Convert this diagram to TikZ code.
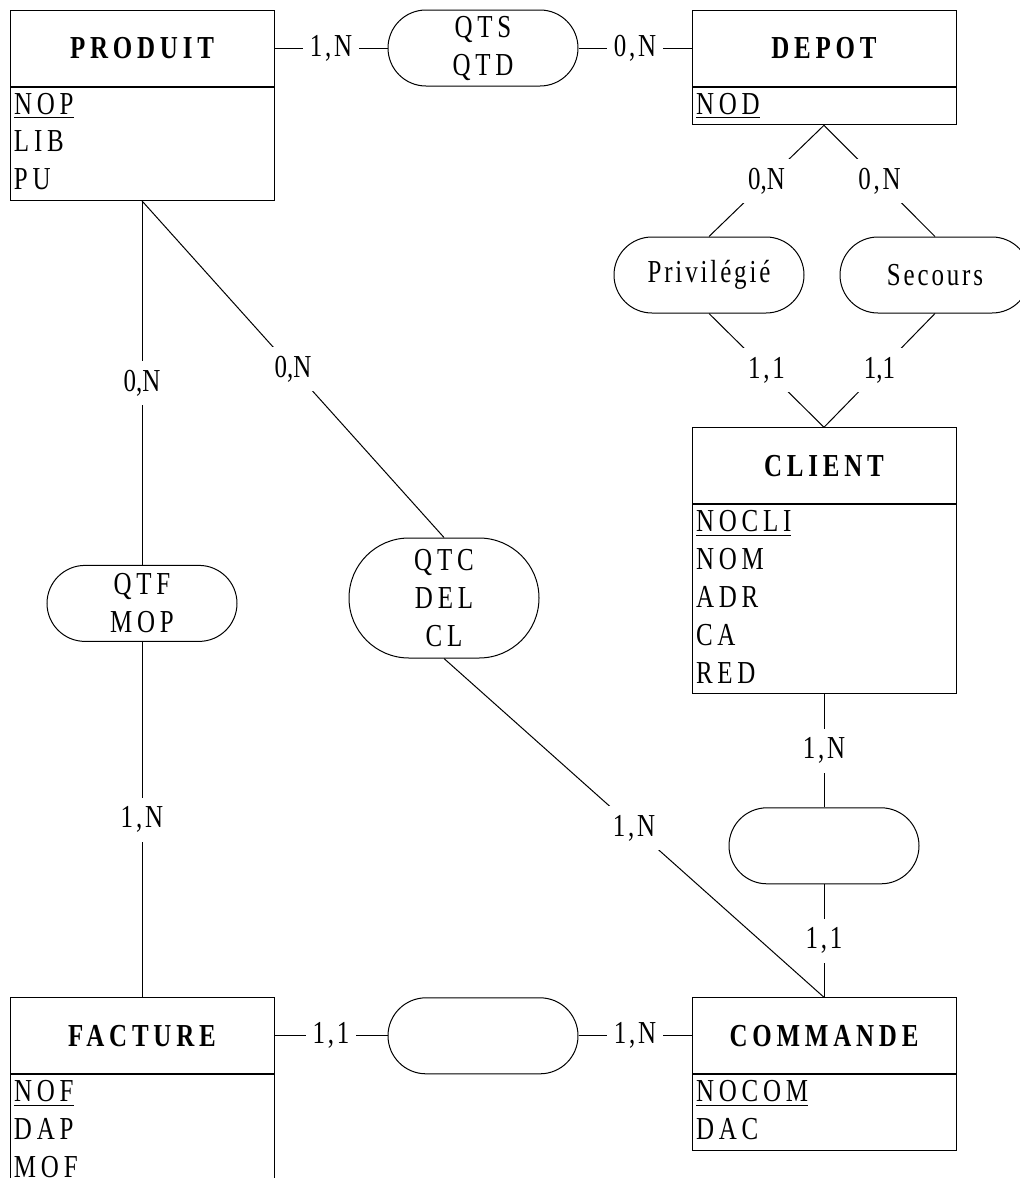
\documentclass[tikz,border=0pt]{standalone}
\usepackage{fontspec}
\setmainfont{Liberation Serif}[FakeStretch=0.78,LetterSpace=15]
\newfontfamily\lowfont{Liberation Serif}[FakeStretch=0.78,LetterSpace=9]
\newfontfamily\tightfont{Liberation Serif}[FakeStretch=0.78]
\usetikzlibrary{positioning,calc,shapes.misc}

\newcommand{\attrow}{\rule[-5.4pt]{0pt}{18.9pt}}
\newcommand{\mcdfont}{\fontsize{16}{19}\selectfont}

\tikzset{
	entity/.style={draw,minimum width=132pt,minimum height=38pt,inner sep=0pt,font=\mcdfont\bfseries},
	attr/.style={draw,minimum width=132pt,text width=128pt,inner xsep=2pt,inner ysep=0pt,align=left,font=\fontsize{16}{18.9}\selectfont},
	assoc/.style={draw,rounded rectangle,minimum width=95pt,minimum height=38pt,inner sep=0pt,align=center,font=\mcdfont},
	card/.style={fill=white,inner xsep=3.5pt,inner ysep=0pt,minimum height=22pt,font=\mcdfont\lowfont},
}

\begin{document}
\begin{tikzpicture}[x=0.5pt,y=-0.5pt,line width=0.5pt]
	\useasboundingbox (0,0) rectangle (1020,1178);
	\clip (0,0) rectangle (1020,1178);
	%
	\node[entity] (produit) at (142,48) {PRODUIT};
	\node[attr,below=0pt of produit] (produit-att) {\attrow\underline{NOP}\\\attrow LIB\\\attrow PU};
	\node[assoc,right=56.5pt of produit] (stocke) {QTS\\QTD};
	\node[entity,right=56.5pt of stocke] (depot) {DEPOT};
	\node[attr,below=0pt of depot] (depot-att) {\attrow\underline{NOD}};
	\node[assoc,font=\mcdfont\lowfont] (privilegie) at (709,275) {Privilégié};
	\node[assoc,font=\mcdfont\lowfont] (secours) at (935,275) {Secours};
	\node[entity,below=151pt of depot-att] (client) {CLIENT};
	\node[attr,below=0pt of client] (client-att) {\attrow\underline{NOCLI}\\\attrow NOM\\\attrow ADR\\\attrow CA\\\attrow RED};
	\node[assoc,below=56.5pt of client-att] (passe) {};
	\node[entity,below=56.5pt of passe] (commande) {COMMANDE};
	\node[attr,below=0pt of commande] (commande-att) {\attrow\underline{NOCOM}\\\attrow DAC};
	\node[assoc,left=56.5pt of commande] (facturee) {};
	\node[entity,left=56.5pt of facturee] (facture) {FACTURE};
	\node[attr,below=0pt of facture] (facture-att) {\attrow\underline{NOF}\\\attrow DAP\\\attrow MOF};
	\node[assoc,below=182pt of produit-att] (contient) {QTF\\MOP};
	\node[assoc,minimum height=60pt] (concerne) at (444,598) {QTC\\DEL\\CL};
	%
	\draw (produit.east) -- node[card] {1,N} (stocke.west);
	\draw (stocke.east) -- node[card] {0,N} (depot.west);
	\draw (depot-att.south) -- node[card] {\tightfont 0,N} (privilegie.north);
	\draw (depot-att.south) -- node[card] {0,N} (secours.north);
	\draw (privilegie.south) -- node[card] {1,1} (client.north);
	\draw (secours.south) -- node[card] {\tightfont 1,1} (client.north);
	\draw (client-att.south) -- node[card] {1,N} (passe.north);
	\draw (passe.south) -- node[card] {1,1} (commande.north);
	\draw (facture.east) -- node[card] {1,1} (facturee.west);
	\draw (facturee.east) -- node[card] {1,N} (commande.west);
	\draw (produit-att.south) -- node[card] {\tightfont 0,N} (contient.north);
	\draw (contient.south) -- node[card] {1,N} (facture.north);
	\draw (produit-att.south) -- node[card] {\tightfont 0,N} (concerne.north);
	\draw (concerne.south) -- node[card] {1,N} (commande.north);
\end{tikzpicture}
\end{document}
